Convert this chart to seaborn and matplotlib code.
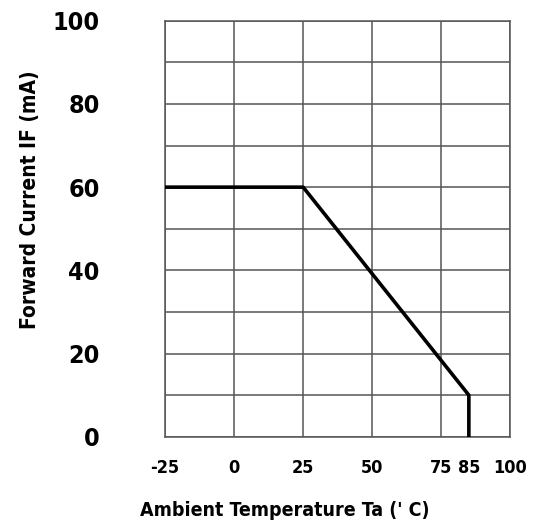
import matplotlib
matplotlib.use("Agg")
import matplotlib.pyplot as plt
import seaborn as sns
import pandas as pd

# derating curve: forward current vs ambient temperature
temperature = [-25, 25, 85, 85]
forward_current = [60, 60, 10, 0]

x_ticks = [-25, 0, 25, 50, 75, 85, 100]
x_grid = [-25, 0, 25, 50, 75, 100]
y_ticks = [0, 20, 40, 60, 80, 100]
y_grid = list(range(0, 101, 10))

df = pd.DataFrame({"Ta": temperature, "IF": forward_current})

sns.set_style("white")
plt.rcParams["font.family"] = ["DejaVu Sans"]
plt.rcParams["font.stretch"] = "condensed"
plt.rcParams["axes.unicode_minus"] = False
plt.rcParams["text.color"] = "black"
plt.rcParams["xtick.color"] = "black"
plt.rcParams["ytick.color"] = "black"

fig = plt.figure(figsize=(5.36, 5.32), dpi=100)
ax = fig.add_axes([0.308, 0.179, 0.644, 0.782])

for xv in x_grid:
    ax.axvline(xv, color="#555555", lw=1.1, zorder=1)
for yv in y_grid:
    ax.axhline(yv, color="#555555", lw=1.1, zorder=1)

# estimator=None keeps both points at 85 so the vertical drop is drawn
sns.lineplot(data=df, x="Ta", y="IF", sort=False, estimator=None, color="black",
             lw=2.6, ax=ax, zorder=3)

ax.set_xlim(-25, 100)
ax.set_ylim(0, 100)
ax.set_xticks(x_ticks)
ax.set_yticks(y_ticks)
ax.tick_params(axis="x", length=0, pad=16, labelsize=13)
ax.tick_params(axis="y", length=0, pad=47, labelsize=18)
for lab in ax.get_xticklabels() + ax.get_yticklabels():
    lab.set_fontweight("bold")
    lab.set_fontstretch("condensed")
for s in ax.spines.values():
    s.set_color("#555555")
    s.set_linewidth(1.1)
ax.set_xlabel("")
ax.set_ylabel("")

fig.text(0.056, 0.625, "Forward Current IF (mA)", rotation=90, ha="center", va="center",
         fontsize=15, fontweight="bold", fontstretch="condensed")
fig.text(0.262, 0.04, "Ambient Temperature Ta (' C)", ha="left", va="center",
         fontsize=14, fontweight="bold", fontstretch="condensed")

fig.savefig("out.png", dpi=100)
